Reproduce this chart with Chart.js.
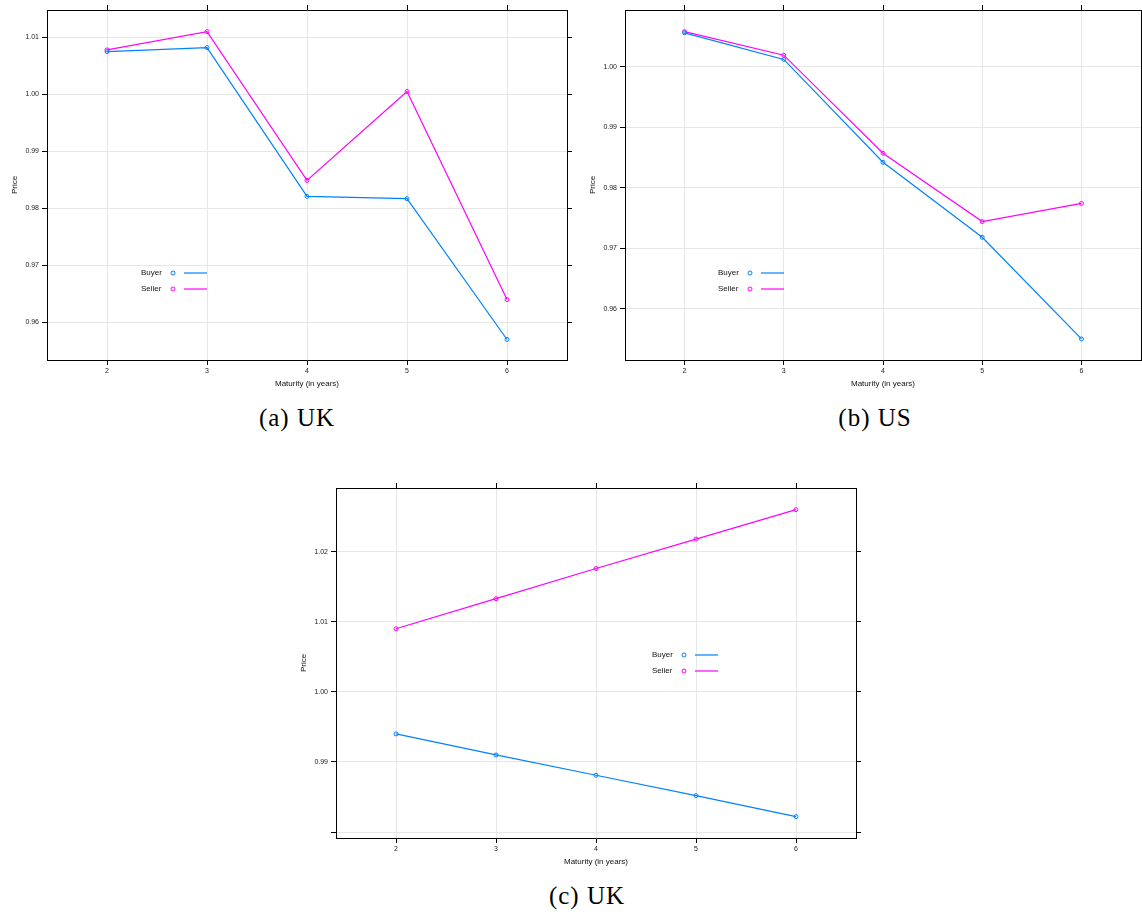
<!DOCTYPE html>
<html>
<head>
<meta charset="utf-8">
<script src="https://cdn.jsdelivr.net/npm/chart.js@4.4.1/dist/chart.umd.min.js"></script>
<style>
  html, body { margin: 0; padding: 0; background: #fff; overflow: hidden; width: 1142px; height: 915px; }
  canvas { position: absolute; }
  .leg { position: absolute; font: 8px "Liberation Sans", Arial, sans-serif; color: #111; line-height: 10px; white-space: nowrap; }
  .leg svg { position: absolute; overflow: visible; }
  .caption { position: absolute; font: 25px "Liberation Serif", "Times New Roman", serif; letter-spacing: 1px; transform: translate(-50%, -50%); white-space: nowrap; color: #000; }
</style>
</head>
<body>
<canvas id="chartA" width="580" height="400" style="left:0;top:0"></canvas>
<canvas id="chartB" width="580" height="400" style="left:578px;top:0"></canvas>
<canvas id="chartC" width="580" height="400" style="left:289px;top:478px"></canvas>
<div class="caption" style="left:297px;top:418px">(a) UK</div>
<div class="caption" style="left:875px;top:418px">(b) US</div>
<div class="caption" style="left:587px;top:896px">(c) UK</div>

<script>
// data
const maturity = [2, 3, 4, 5, 6];
const seriesNames = ['Buyer', 'Seller'];
const seriesColors = ['#0080ff', '#ff00ff'];

const buyerA = [1.0075, 1.0082, 0.9821, 0.9817, 0.9570];
const sellerA = [1.0078, 1.0110, 0.9849, 1.0005, 0.9640];
const buyerB = [1.0056, 1.0012, 0.9842, 0.9718, 0.9550];
const sellerB = [1.0058, 1.0019, 0.9857, 0.9744, 0.9774];
const buyerC = [0.9940, 0.9910, 0.9881, 0.9852, 0.9822];
const sellerC = [1.0090, 1.0133, 1.0176, 1.0218, 1.0260];

const xTicks = [2, 3, 4, 5, 6];
const yTicksA = [0.96, 0.97, 0.98, 0.99, 1.00, 1.01];
const yLabelsA = ['0.96', '0.97', '0.98', '0.99', '1.00', '1.01'];
const yTicksB = [0.96, 0.97, 0.98, 0.99, 1.00];
const yLabelsB = ['0.96', '0.97', '0.98', '0.99', '1.00'];
const yTicksC = [0.98, 0.99, 1.00, 1.01, 1.02];
const yLabelsC = ['', '0.99', '1.00', '1.01', '1.02'];

const sans = '"Liberation Sans", Arial, sans-serif';

function setTicks(values) {
    return scale => { scale.ticks = values.map(v => ({ value: v })); };
}

function makeChart(id, buyer, seller, yRange, yTicks, yLabels, rightW) {
    const pts = arr => maturity.map((m, i) => ({ x: m, y: arr[i] }));
    const ds = (i, arr) => ({
        label: seriesNames[i],
        data: pts(arr),
        borderColor: seriesColors[i],
        borderWidth: 1.2,
        pointRadius: 2,
        pointBorderWidth: 1,
        pointBorderColor: seriesColors[i],
        pointBackgroundColor: 'rgba(0,0,0,0)',
        tension: 0
    });
    const common = {
        type: 'linear',
        border: { color: '#000', width: 1 },
        grid: { color: '#e6e6e6', tickColor: '#000', tickLength: 5, lineWidth: 1 }
    };
    new Chart(document.getElementById(id), {
        type: 'line',
        data: { datasets: [ds(0, buyer), ds(1, seller)] },
        options: {
            responsive: false,
            animation: false,
            devicePixelRatio: 1,
            layout: { padding: 0 },
            plugins: { legend: { display: false }, tooltip: { enabled: false } },
            scales: {
                x: Object.assign({}, common, {
                    position: 'bottom', min: 1.4, max: 6.6,
                    afterBuildTicks: setTicks(xTicks),
                    afterFit: s => { s.height = 40; },
                    ticks: { autoSkip: false, maxRotation: 0, padding: 2, color: '#222',
                             font: { size: 7, family: sans }, callback: (v, i) => String(xTicks[i]) },
                    title: { display: true, text: 'Maturity (in years)', color: '#111',
                             font: { size: 8, family: sans }, padding: { top: 0, bottom: 11 } }
                }),
                x2: Object.assign({}, common, {
                    position: 'top', min: 1.4, max: 6.6,
                    afterBuildTicks: setTicks(xTicks),
                    afterFit: s => { s.height = 10; },
                    grid: { drawOnChartArea: false, tickColor: '#000', tickLength: 5 },
                    ticks: { display: false }
                }),
                y: Object.assign({}, common, {
                    position: 'left', min: yRange[0], max: yRange[1],
                    afterBuildTicks: setTicks(yTicks),
                    afterFit: s => { s.width = 47; },
                    ticks: { autoSkip: false, padding: 3, color: '#222',
                             font: { size: 7, family: sans }, callback: (v, i) => yLabels[i] },
                    title: { display: true, text: 'Price', color: '#111',
                             font: { size: 8, family: sans }, padding: { top: 10, bottom: 0 } }
                }),
                y2: Object.assign({}, common, {
                    position: 'right', min: yRange[0], max: yRange[1],
                    afterBuildTicks: setTicks(yTicks),
                    afterFit: s => { s.width = rightW; },
                    grid: { drawOnChartArea: false, tickColor: '#000', tickLength: 5 },
                    ticks: { display: false }
                })
            }
        }
    });
}

function addLegend(x, y, gap) {
    seriesNames.forEach((name, i) => {
        const row = document.createElement('div');
        row.className = 'leg';
        row.style.left = x + 'px';
        row.style.top = (y + i * gap - 5) + 'px';
        row.innerHTML = '<span>' + name + '</span>' +
            '<svg width="70" height="10" style="left:0;top:0">' +
            '<circle cx="32" cy="5" r="2" fill="none" stroke="' + seriesColors[i] + '" stroke-width="1"/>' +
            '<line x1="43" y1="5" x2="66" y2="5" stroke="' + seriesColors[i] + '" stroke-width="1.2"/>' +
            '</svg>';
        document.body.appendChild(row);
    });
}

makeChart('chartA', buyerA, sellerA, [0.9534, 1.0148], yTicksA, yLabelsA, 13);
makeChart('chartB', buyerB, sellerB, [0.95152, 1.00937], yTicksB, yLabelsB, 17);
makeChart('chartC', buyerC, sellerC, [0.97915, 1.02909], yTicksC, yLabelsC, 13);

addLegend(141, 273, 15.5);
addLegend(718, 273, 15.5);
addLegend(652, 655, 16);
</script>
</body>
</html>
